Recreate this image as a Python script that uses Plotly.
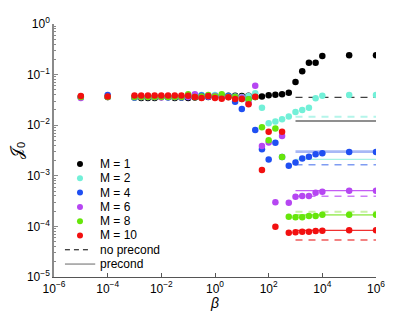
import plotly.graph_objects as go

beta = [1e-5, 1e-4, 1e-3, 1.78e-3, 3.16e-3, 5.62e-3, 1e-2, 1.78e-2, 3.16e-2, 5.62e-2,
        1e-1, 1.78e-1, 3.16e-1, 5.62e-1, 1, 1.78, 3.16, 5.62, 10, 17.8, 31.6, 56.2,
        100, 178, 316, 562, 1000, 1780, 3160, 5620, 1e4, 1e5, 1e6]

J_M1 = [0.0361, 0.0361, 0.0353, 0.0345, 0.0345, 0.0345, 0.0361, 0.0361, 0.0345, 0.0353,
        0.0345, 0.0353, 0.0353, 0.0361, 0.0361, 0.0369, 0.0383, 0.0383,
        0.0378, 0.0383, 0.0361, 0.0369, 0.0390, 0.0400, 0.0408, 0.0439, 0.0714, 0.116,
        0.172, 0.172, 0.233, 0.240, 0.240]
J_M2 = [0.0361, 0.0369, 0.0353, 0.0361, 0.0369, 0.0361, 0.0369, 0.0361, 0.0361, 0.0361,
        0.0369, 0.0378, 0.0395, 0.0378, 0.0395, 0.0378, 0.0378, 0.0369,
        0.0361, 0.0378, 0.0427, 0.0222, 0.0109, 0.0118, 0.0131, 0.0148, 0.0182, 0.0200,
        0.0222, 0.0340, 0.0383, 0.0395, 0.0395]
J_M4 = [0.0361, 0.0395, 0.0353, 0.0361, 0.0361, 0.0361, 0.0361, 0.0353, 0.0361, 0.0353,
        0.0361, 0.0369, 0.0386, 0.0369, 0.0378, 0.0378, 0.0378, 0.0291,
        0.0209, 0.0325, 0.00804, 0.00334, 0.00210, 0.00451, 0.00235, 0.00158, 0.00183,
        0.00220, 0.00238, 0.00266, 0.00279, 0.00295, 0.00295]
J_M6 = [0.0345, 0.0361, 0.0361, 0.0361, 0.0361, 0.0361, 0.0353, 0.0361, 0.0361, 0.0361,
        0.0361, 0.0408, 0.0361, 0.0369, 0.0378, 0.0361, 0.0361, 0.0361,
        0.0353, 0.0275, 0.0604, 0.00388, 0.00455, 0.000299, 0.00612, 0.000294, 0.000386,
        0.000399, 0.000399, 0.000464, 0.000485, 0.000508, 0.000508]
J_M8 = [0.0361, 0.0361, 0.0361, 0.0361, 0.0361, 0.0361, 0.0361, 0.0361, 0.0361, 0.0361,
        0.0408, 0.0361, 0.0369, 0.0395, 0.0369, 0.0408, 0.0361, 0.0361,
        0.0330, 0.0325, 0.0361, 0.00908, 0.00503, 0.00861, 0.00235, 0.000156, 0.000151,
        0.000151, 0.000161, 0.000161, 0.000170, 0.000170, 0.000170]
J_M10 = [0.0378, 0.0370, 0.0386, 0.0386, 0.0386, 0.0386, 0.0386, 0.0386, 0.0386, 0.0386,
         0.0381, 0.0361, 0.0345, 0.0378, 0.0345, 0.0334, 0.0356, 0.0330,
         0.0330, 0.0259, 0.0365, 0.00130, 0.00744, 0.0000986, 0.00744, 0.0000751,
         0.0000764, 0.0000786, 0.0000786, 0.0000811, 0.0000822, 0.0000837, 0.0000837]

labels = ["M = 1", "M = 2", "M = 4", "M = 6", "M = 8", "M = 10"]
series = [J_M1, J_M2, J_M4, J_M6, J_M8, J_M10]

line_beta = [1e3, 1e6]
no_precond = [0.0356, 0.0147, 0.00165, 0.000393, 0.000194, 0.000054]
precond = [0.0121, 0.00212, 0.00300, 0.000508, 0.000169, 0.0000837]

x_ticks = [1e-6, 1e-4, 1e-2, 1, 1e2, 1e4, 1e6]
x_ticktext = ["10<sup>−6</sup>", "10<sup>−4</sup>", "10<sup>−2</sup>", "10<sup>0</sup>",
              "10<sup>2</sup>", "10<sup>4</sup>", "10<sup>6</sup>"]
y_ticks = [1e-5, 1e-4, 1e-3, 1e-2, 1e-1, 1]
y_ticktext = ["10<sup>−5</sup>", "10<sup>−4</sup>", "10<sup>−3</sup>", "10<sup>−2</sup>",
              "10<sup>−1</sup>", "10<sup>0</sup>"]

marker_colors = ["#000000", "#72f0d8", "#1f4ff2", "#b646f2", "#66e60a", "#f21010"]
dash_colors = ["#404040", "#b4f5ea", "#7f9cf2", "#cc7cf6", "#c8f2a4", "#f05a5a"]
dash_widths = [1.2, 2, 1.5, 1.5, 2, 1.5]
solid_colors = ["#6a6a6a", "#a8f2e4", "#a8b8f6", "#c45cf4", "#a8ee70", "#f03030"]
solid_widths = [1.5, 1.2, 2.8, 1.2, 1.8, 1.2]

fig = go.Figure()
for i in range(6):
    fig.add_trace(go.Scatter(x=line_beta, y=[no_precond[i]] * 2, mode="lines",
                             line=dict(color=dash_colors[i], width=dash_widths[i], dash="7px,6px"),
                             showlegend=False, hoverinfo="skip"))
    fig.add_trace(go.Scatter(x=line_beta, y=[precond[i]] * 2, mode="lines",
                             line=dict(color=solid_colors[i], width=solid_widths[i]),
                             showlegend=False, hoverinfo="skip"))
for i in range(6):
    fig.add_trace(go.Scatter(x=beta, y=series[i], mode="markers", name=labels[i],
                             marker=dict(color=marker_colors[i], size=6.5), showlegend=False))

# manual legend on an overlay axis (units 0..1 of the plot area)
leg_x_mark = 0.0807
leg_x_text = 0.137
leg_y0 = 0.4466
leg_dy = 0.0565
for i in range(6):
    yy = leg_y0 - i * leg_dy
    fig.add_trace(go.Scatter(x=[leg_x_mark], y=[yy], xaxis="x2", yaxis="y2", mode="markers",
                             marker=dict(color=marker_colors[i], size=6), showlegend=False,
                             hoverinfo="skip"))
    fig.add_annotation(x=leg_x_text, y=yy, xref="paper", yref="paper", text=labels[i],
                       showarrow=False, xanchor="left", yanchor="middle",
                       font=dict(size=12))
yy = leg_y0 - 6 * leg_dy
fig.add_trace(go.Scatter(x=[0.034, 0.112], y=[yy, yy], xaxis="x2", yaxis="y2", mode="lines",
                         line=dict(color="#000000", width=1, dash="5px,4px"), showlegend=False,
                         hoverinfo="skip"))
fig.add_annotation(x=leg_x_text, y=yy, xref="paper", yref="paper", text="no precond",
                   showarrow=False, xanchor="left", yanchor="middle", font=dict(size=12))
yy = leg_y0 - 7 * leg_dy
fig.add_trace(go.Scatter(x=[0.034, 0.128], y=[yy, yy], xaxis="x2", yaxis="y2", mode="lines",
                         line=dict(color="#9a9a9a", width=1.5), showlegend=False,
                         hoverinfo="skip"))
fig.add_annotation(x=leg_x_text, y=yy, xref="paper", yref="paper", text="precond",
                   showarrow=False, xanchor="left", yanchor="middle", font=dict(size=12))

font = dict(family="Liberation Sans, Arial, sans-serif", size=12, color="#000000")
# the page body adds an 8px offset, so the figure is 8px smaller than the window
fig.update_layout(
    width=407, height=304,
    margin=dict(l=46, r=39, t=16, b=35, autoexpand=False),
    paper_bgcolor="white", plot_bgcolor="white",
    font=font,
    showlegend=False,
    xaxis2=dict(overlaying="x", range=[0, 1], visible=False, fixedrange=True),
    yaxis2=dict(overlaying="y", range=[0, 1], visible=False, fixedrange=True),
    xaxis=dict(type="log", range=[-6, 6], tickvals=x_ticks, ticktext=x_ticktext,
               showgrid=False, zeroline=False, showline=True, linecolor="#555555",
               linewidth=1.2, ticks="inside", ticklen=4, tickcolor="#555555",
               title=dict(text="<i>β</i>", standoff=0, font=dict(size=14))),
    yaxis=dict(type="log", range=[-5, 0], tickvals=y_ticks, ticktext=y_ticktext,
               showgrid=False, zeroline=False, showline=True, linecolor="#8a8a8a",
               linewidth=1.5, ticks="inside", ticklen=4, tickcolor="#8a8a8a",
               minor=dict(ticks="inside", ticklen=2, dtick="D1", tickcolor="#8a8a8a",
                          showgrid=False),
               title=dict(text="𝒥<sub>0</sub>", standoff=6, font=dict(size=16))),
)

fig.write_html("out.html")
